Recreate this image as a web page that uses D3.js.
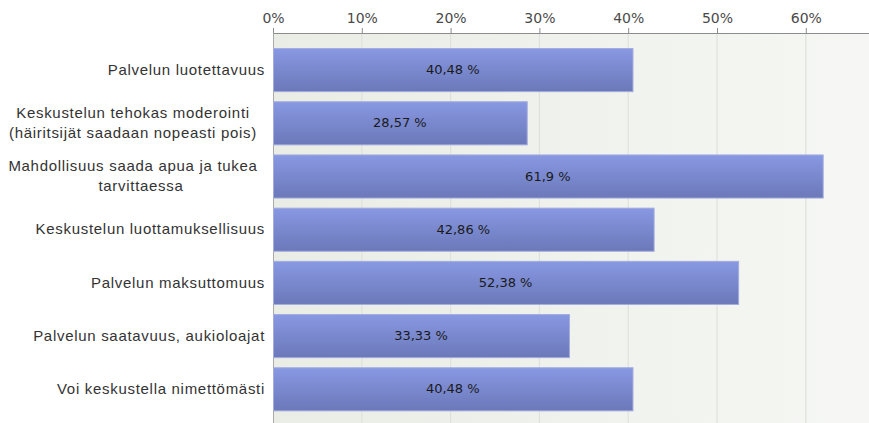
<!DOCTYPE html>
<html>
<head>
<meta charset="utf-8">
<script src="https://cdn.jsdelivr.net/npm/d3@7"></script>
<style>
  body { margin: 0; background: #fff; }
  svg { display: block; font-family: 'DejaVu Sans', Verdana, sans-serif; }
</style>
</head>
<body>
<svg id="chart"></svg>
<script>
const categories = [
  ['Palvelun luotettavuus'],
  ['Keskustelun tehokas moderointi', '(häiritsijät saadaan nopeasti pois)'],
  ['Mahdollisuus saada apua ja tukea', 'tarvittaessa'],
  ['Keskustelun luottamuksellisuus'],
  ['Palvelun maksuttomuus'],
  ['Palvelun saatavuus, aukioloajat'],
  ['Voi keskustella nimettömästi']
]
const values = [40.48, 28.57, 61.9, 42.86, 52.38, 33.33, 40.48]
const valueLabels = ['40,48 %', '28,57 %', '61,9 %', '42,86 %', '52,38 %', '33,33 %', '40,48 %']
const ticks = [0, 10, 20, 30, 40, 50, 60]

const width = 869
const height = 423
const margin = { top: 33, left: 273 }

const svg = d3.select('#chart')
  .attr('width', width)
  .attr('height', height)

const defs = svg.append('defs')
const bg = defs.append('linearGradient').attr('id', 'bg')
  .attr('x1', 0).attr('x2', 1).attr('y1', 0).attr('y2', 0)
bg.append('stop').attr('offset', '0%').attr('stop-color', '#e9ede5')
bg.append('stop').attr('offset', '100%').attr('stop-color', '#f6f7f4')

const barGrad = defs.append('linearGradient').attr('id', 'bar')
  .attr('x1', 0).attr('x2', 0).attr('y1', 0).attr('y2', 1)
barGrad.append('stop').attr('offset', '0%').attr('stop-color', '#8898e2')
barGrad.append('stop').attr('offset', '100%').attr('stop-color', '#6b78b9')

const x = d3.scaleLinear()
  .domain([0, 10])
  .range([margin.left, margin.left + 88.8])

const y = d3.scaleBand()
  .domain(d3.range(values.length))
  .range([43, 415.4])
  .paddingInner(0.19)
  .paddingOuter(0.095)

// plot background
svg.append('rect')
  .attr('x', margin.left)
  .attr('y', margin.top)
  .attr('width', width - margin.left)
  .attr('height', height - margin.top)
  .attr('fill', 'url(#bg)')

// grid
svg.append('g')
  .selectAll('line').data(ticks.slice(1)).enter().append('line')
  .attr('x1', d => x(d)).attr('x2', d => x(d))
  .attr('y1', margin.top).attr('y2', height)
  .attr('stroke', '#dfe1dc')
  .attr('stroke-width', 1.2)

// top axis
const xAxis = d3.axisTop(x)
  .tickValues(ticks)
  .tickFormat(d => d + '%')
  .tickSize(5)
  .tickSizeOuter(0)

svg.append('g')
  .attr('transform', `translate(0,${margin.top})`)
  .call(xAxis)
  .call(g => g.select('.domain').attr('stroke', '#8c8c8c').attr('d', `M${margin.left},0.5H${width}`))
  .call(g => g.selectAll('.tick line').attr('stroke', '#8c8c8c'))
  .call(g => g.selectAll('.tick text')
    .attr('fill', '#4a4a4a')
    .attr('font-size', 14)
    .attr('font-family', 'DejaVu Sans, sans-serif')
    .attr('dy', '-0.15em'))

// left axis line
svg.append('line')
  .attr('x1', margin.left + 0.5).attr('x2', margin.left + 0.5)
  .attr('y1', margin.top).attr('y2', height)
  .attr('stroke', '#aaa')

// bars
svg.append('g')
  .selectAll('rect').data(values).enter().append('rect')
  .attr('x', x(0) + 0.5)
  .attr('y', (d, i) => y(i) + 0.5)
  .attr('width', d => x(d) - x(0))
  .attr('height', y.bandwidth())
  .attr('fill', 'url(#bar)')
  .attr('stroke', '#a3acdf')
  .attr('stroke-width', 1)

// value labels
svg.append('g')
  .selectAll('text').data(values).enter().append('text')
  .attr('x', d => (x(0) + x(d)) / 2)
  .attr('y', (d, i) => y(i) + y.bandwidth() / 2)
  .attr('dy', '0.35em')
  .attr('text-anchor', 'middle')
  .attr('font-size', 13)
  .attr('fill', '#1a1a1a')
  .text((d, i) => valueLabels[i])

// category labels
const labels = svg.append('g')
  .selectAll('text').data(categories).enter().append('text')
  .attr('font-size', 15)
  .attr('letter-spacing', 0.7)
  .attr('fill', '#333')
  .attr('font-family', 'Liberation Sans, Arial, sans-serif')

const lineCenters = [[265], [133, 133], [133, 141], [265], [265], [265], [265]]

labels.each(function (lines, i) {
  const t = d3.select(this)
  const cy = y(i) + y.bandwidth() / 2
  const lh = 20
  lines.forEach((line, j) => {
    t.append('tspan')
      .attr('x', lineCenters[i][j])
      .attr('text-anchor', lines.length > 1 ? 'middle' : 'end')
      .attr('y', cy + (j - (lines.length - 1) / 2) * lh)
      .attr('dy', '0.35em')
      .text(line)
  })
})
</script>
</body>
</html>
